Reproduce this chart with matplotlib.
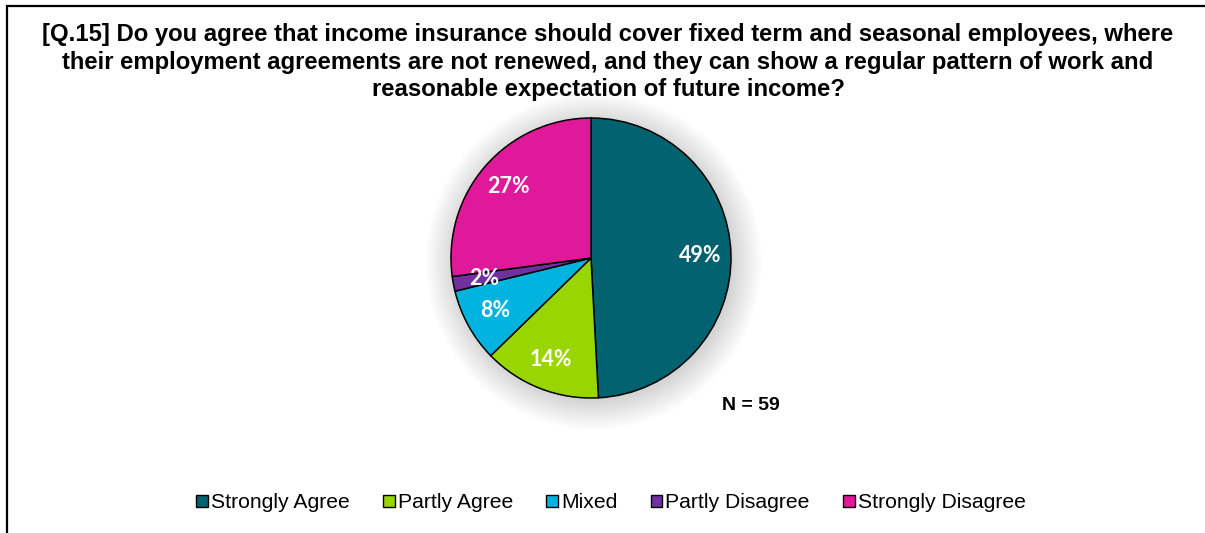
import matplotlib.pyplot as plt
from matplotlib.patches import Rectangle, Circle

# Survey responses (N = 59)
categories = ['Strongly Agree', 'Partly Agree', 'Mixed', 'Partly Disagree', 'Strongly Disagree']
counts = [29, 8, 5, 1, 16]
colors = ['#03626F', '#99D500', '#00B4DF', '#7030A0', '#E0199A']

title = ('[Q.15] Do you agree that income insurance should cover fixed term and seasonal employees, where\n'
         'their employment agreements are not renewed, and they can show a regular pattern of work and\n'
         'reasonable expectation of future income?')

W, H = 1205, 533
fig = plt.figure(figsize=(W / 100, H / 100), dpi=100)
fig.patch.set_facecolor('white')

# outer frame (only left and top edges visible)
fig.patches.append(Rectangle((7 / W, -0.2), 1.3, 1.2 - 6 / H, transform=fig.transFigure,
                             fill=False, edgecolor='black', linewidth=1.6))

fig.text(608 / W, 1 - 62 / H, title, ha='center', va='center', fontsize=17.2, fontweight='bold',
         family='Liberation Sans', linespacing=1.23)

# pie axes: centre (591, 258) px, radius 140 px, view range +-1.25
cx, cy, r = 591, 258, 140
span = r * 1.25
ax = fig.add_axes([(cx - span) / W, (H - cy - span) / H, 2 * span / W, 2 * span / H])
ax.axis('off')

# soft shadow around the pie
for i in range(22):
    rad = 1.2 - i * 0.01
    ax.add_patch(Circle((0.02, -0.025), rad, facecolor='#999999', edgecolor='none', alpha=0.018, zorder=0))

wedges, texts, autotexts = ax.pie(counts, colors=colors, startangle=90, counterclock=False,
                                  autopct='%.0f%%', pctdistance=0.78, radius=1.0,
                                  wedgeprops=dict(edgecolor='black', linewidth=1.1),
                                  textprops=dict(color='white', fontsize=15.5, fontweight='bold',
                                                 family='Lato'))
ax.set_xlim(-1.25, 1.25)
ax.set_ylim(-1.25, 1.25)
ax.set_aspect('equal')

fig.text(751 / W, 1 - 405 / H, 'N = 59', ha='center', va='center', fontsize=14, fontweight='bold',
         family='Liberation Sans')

handles = [Rectangle((0, 0), 1, 1, facecolor=c, edgecolor='black', linewidth=1.0) for c in colors]
fig.legend(handles, categories, loc='center', bbox_to_anchor=(611 / W, 1 - 503 / H), ncol=5,
           frameon=False, prop=dict(family='Liberation Sans', size=15.2),
           handlelength=0.55, handleheight=0.55, handletextpad=0.15, columnspacing=1.57)

fig.savefig('out.png', dpi=100)
